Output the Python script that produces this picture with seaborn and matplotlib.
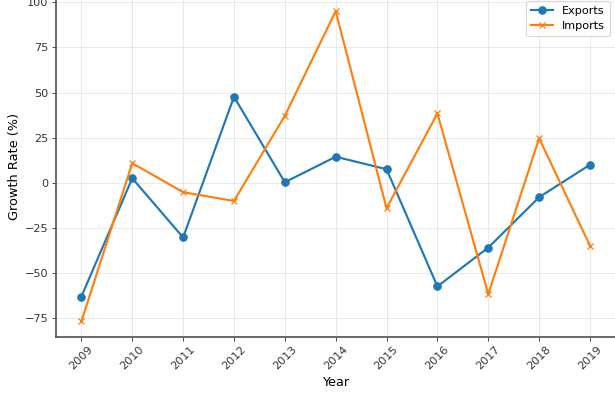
import pandas as pd
import seaborn as sns
import matplotlib
matplotlib.use('Agg')
import matplotlib.pyplot as plt

years = [2009, 2010, 2011, 2012, 2013, 2014, 2015, 2016, 2017, 2018, 2019]
exports = [-62.9, 2.6, -30.2, 47.7, 0.4, 14.5, 7.6, -57.3, -35.8, -7.9, 10.1]
imports = [-76.7, 10.9, -5.1, -10.0, 37.2, 95.1, -14.0, 38.5, -61.6, 24.7, -34.8]

df = pd.DataFrame({'Year': years, 'Exports': exports, 'Imports': imports})

blue = '#1f77b4'
orange = '#ff7f0e'

fig = plt.figure(figsize=(615 / 77, 394 / 77), dpi=77)
ax = fig.add_axes([0.091, 0.1447, 0.9097, 0.8663])

sns.lineplot(data=df, x='Year', y='Exports', marker='o', color=blue,
             markeredgecolor=blue, markeredgewidth=1, markersize=7,
             linewidth=2, label='Exports', ax=ax)
sns.lineplot(data=df, x='Year', y='Imports', marker='x', color=orange,
             markeredgecolor=orange, markeredgewidth=1.2, markersize=6,
             linewidth=2, label='Imports', ax=ax)

ax.set_xticks(years)
ax.set_xticklabels([str(y) for y in years], rotation=45)
ax.tick_params(labelsize=10.5, colors='#333333')
ax.set_xlabel('Year', fontsize=12)
ax.set_ylabel('Growth Rate (%)', fontsize=12)
ax.grid(True, alpha=0.3)
for s in ax.spines.values():
    s.set_color('#555555')
    s.set_linewidth(1.6)
ax.spines['right'].set_visible(False)
ax.spines['top'].set_visible(False)
ax.legend(loc='upper right', fontsize=10.5)

fig.savefig('out.png', dpi=77)
